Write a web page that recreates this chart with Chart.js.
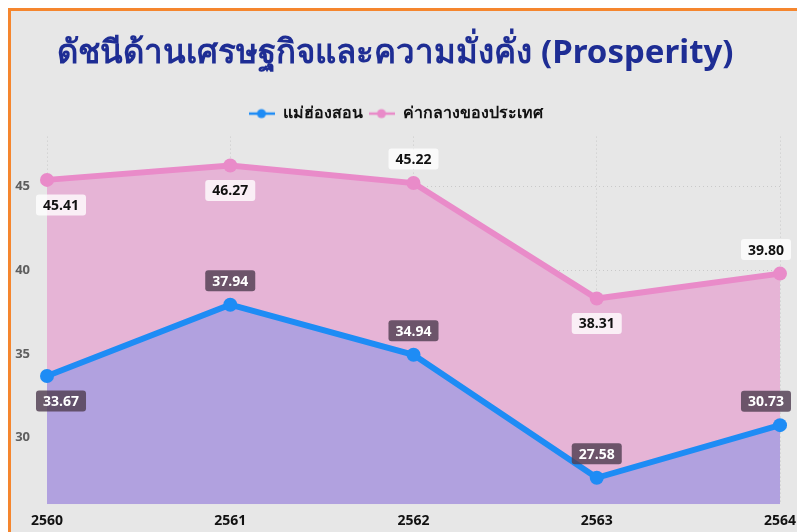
<!DOCTYPE html>
<html lang="th">
<head>
<meta charset="UTF-8">
<title>ดัชนีด้านเศรษฐกิจและความมั่งคั่ง (Prosperity)</title>
<script src="https://cdn.jsdelivr.net/npm/chart.js@4.4.1/dist/chart.umd.min.js"></script>
<style>
    html, body {
        margin: 0;
        padding: 0;
        background: #ffffff;
        overflow: hidden;
        width: 797px;
        height: 532px;
    }
    .frame {
        position: absolute;
        left: 8px;
        top: 8px;
        width: 820px;
        height: 540px;
        border-left: 3px solid #f5862e;
        border-top: 3px solid #f5862e;
        background: #e7e7e7;
    }
    .chart-wrapper {
        position: absolute;
        left: 0;
        top: 0;
        width: 800px;
        height: 526px;
    }
</style>
</head>
<body>
<div class="frame">
    <div class="chart-wrapper">
        <canvas id="chart"></canvas>
    </div>
</div>

<script>
    // ข้อมูล
    const years = ['2560', '2561', '2562', '2563', '2564'];
    const maehongson = [33.67, 37.94, 34.94, 27.58, 30.73];
    const national = [45.41, 46.27, 45.22, 38.31, 39.80];
    const seriesNames = ['แม่ฮ่องสอน', 'ค่ากลางของประเทศ'];

    // ตำแหน่งป้ายตัวเลข (บน/ล่างของจุด)
    const blueAlign = ['bottom', 'top', 'top', 'top', 'top'];
    const pinkAlign = ['bottom', 'bottom', 'top', 'bottom', 'top'];

    const blue = '#1e8cf5';
    const pink = '#e98bc9';

    function legendIcon(color) {
        const c = document.createElement('canvas');
        c.width = 26;
        c.height = 12;
        const ctx = c.getContext('2d');
        ctx.strokeStyle = color;
        ctx.lineWidth = 2.5;
        ctx.beginPath();
        ctx.moveTo(0, 6);
        ctx.lineTo(26, 6);
        ctx.stroke();
        ctx.fillStyle = color;
        ctx.beginPath();
        ctx.arc(13, 6, 4.5, 0, Math.PI * 2);
        ctx.fill();
        return c;
    }

    // ป้ายตัวเลขบนจุด
    const valueLabels = {
        id: 'valueLabels',
        afterDatasetsDraw(chart) {
            const ctx = chart.ctx;
            const area = chart.chartArea;
            ctx.save();
            ctx.font = 'bold 14px "Open Sans", sans-serif';
            ctx.textAlign = 'center';
            ctx.textBaseline = 'middle';
            chart.data.datasets.forEach((ds, di) => {
                const meta = chart.getDatasetMeta(di);
                meta.data.forEach((pt, i) => {
                    const text = ds.data[i].toFixed(2);
                    const w = ctx.measureText(text).width + 14;
                    const h = 21;
                    let cx = pt.x;
                    const cy = ds.labelAlign[i] === 'top' ? pt.y - 24 : pt.y + 25;
                    cx = Math.max(area.left - 11 + w / 2, Math.min(area.right + 11 - w / 2, cx));
                    ctx.fillStyle = ds.labelBg;
                    ctx.beginPath();
                    ctx.roundRect(cx - w / 2, cy - h / 2, w, h, 3);
                    ctx.fill();
                    ctx.fillStyle = ds.labelColor;
                    ctx.fillText(text, cx, cy + 1);
                });
            });
            ctx.restore();
        }
    };

    // เว้นระยะใต้คำอธิบายสัญลักษณ์
    const legendGap = {
        id: 'legendGap',
        beforeInit(chart) {
            const fit = chart.legend.fit;
            chart.legend.fit = function () {
                fit.call(this);
                this.height += 5;
            };
        }
    };

    new Chart(document.getElementById('chart'), {
        type: 'line',
        data: {
            labels: years,
            datasets: [
                {
                    label: seriesNames[0],
                    data: maehongson,
                    borderColor: blue,
                    backgroundColor: '#b1a1df',
                    fill: 'start',
                    borderWidth: 6,
                    pointRadius: 7,
                    pointBackgroundColor: blue,
                    pointBorderWidth: 0,
                    tension: 0,
                    labelAlign: blueAlign,
                    labelBg: 'rgba(80, 62, 82, 0.82)',
                    labelColor: '#ffffff',
                    legendIcon: legendIcon(blue)
                },
                {
                    label: seriesNames[1],
                    data: national,
                    borderColor: pink,
                    backgroundColor: '#e6b4d6',
                    fill: 'start',
                    borderWidth: 6,
                    pointRadius: 7,
                    pointBackgroundColor: pink,
                    pointBorderWidth: 0,
                    tension: 0,
                    labelAlign: pinkAlign,
                    labelBg: 'rgba(255, 255, 255, 0.78)',
                    labelColor: '#111111',
                    legendIcon: legendIcon(pink)
                }
            ]
        },
        options: {
            responsive: true,
            maintainAspectRatio: false,
            animation: false,
            layout: {
                padding: { left: 0, right: 31, top: 0, bottom: 0 }
            },
            plugins: {
                title: {
                    display: true,
                    text: 'ดัชนีด้านเศรษฐกิจและความมั่งคั่ง (Prosperity)',
                    color: '#1e2d94',
                    font: { size: 33, weight: 'bold', family: '"Liberation Sans Narrow", "Noto Sans", sans-serif' },
                    padding: { top: 23, bottom: 26 }
                },
                legend: {
                    display: true,
                    labels: {
                        usePointStyle: true,
                        pointStyleWidth: 26,
                        boxHeight: 12,
                        padding: 6,
                        color: '#111111',
                        font: { size: 16, weight: 'bold', family: '"Liberation Sans Narrow", "Noto Sans", sans-serif' },
                        generateLabels(chart) {
                            return chart.data.datasets.map((ds, i) => ({
                                text: ds.label,
                                pointStyle: ds.legendIcon,
                                fillStyle: ds.borderColor,
                                strokeStyle: ds.borderColor,
                                lineWidth: 0,
                                hidden: false,
                                datasetIndex: i,
                                fontColor: '#111111'
                            }));
                        }
                    }
                },
                tooltip: { enabled: false }
            },
            scales: {
                x: {
                    offset: false,
                    grid: {
                        color: '#c9c9c9',
                        drawTicks: false
                    },
                    border: { display: false, dash: [1, 3] },
                    ticks: {
                        color: '#111111',
                        padding: 8,
                        maxRotation: 0,
                        font: { size: 14, weight: 'bold', family: '"Open Sans", sans-serif' }
                    }
                },
                y: {
                    min: 26,
                    max: 48,
                    afterFit(scale) { scale.width = 36; },
                    grid: {
                        color: '#c9c9c9',
                        drawTicks: false
                    },
                    border: { display: false, dash: [1, 3] },
                    ticks: {
                        stepSize: 5,
                        includeBounds: false,
                        padding: 17,
                        color: '#5e5e5e',
                        font: { size: 13, weight: 'bold', family: '"Open Sans", sans-serif' }
                    }
                }
            }
        },
        plugins: [valueLabels, legendGap]
    });
</script>
</body>
</html>
